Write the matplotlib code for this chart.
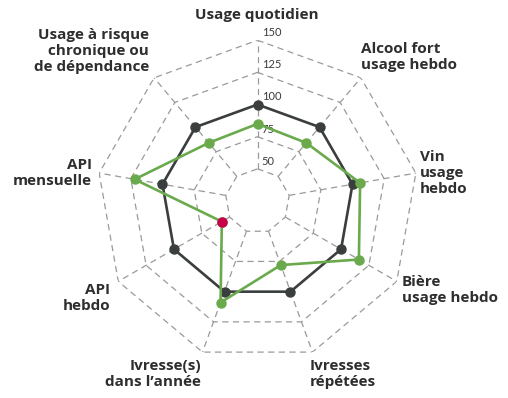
import numpy as np
import matplotlib.pyplot as plt

# Axes of the radar, clockwise from the top
axes_labels = [
    "Usage quotidien",
    "Alcool fort\nusage hebdo",
    "Vin\nusage\nhebdo",
    "Bière\nusage hebdo",
    "Ivresses\nrépétées",
    "Ivresse(s)\ndans l\u2019année",
    "API\nhebdo",
    "API\nmensuelle",
    "Usage à risque\nchronique ou\nde dépendance",
]
reference = [100, 100, 100, 100, 100, 100, 100, 100, 100]
group = [85, 84, 106, 116, 78, 109, 57, 122, 84]
highlight_index = 6
ring_values = [50, 75, 100, 125, 150]

W, H = 508, 398
fig = plt.figure(figsize=(W / 100, H / 100), dpi=100)

cx, cy, R = 257.5, 201, 160.8
ax = fig.add_axes([(cx - R) / W, (H - cy - R) / H, 2 * R / W, 2 * R / H], projection="polar")
ax.set_theta_zero_location("N")
ax.set_theta_direction(-1)
ax.set_rlim(25, 150)
ax.grid(False)
ax.spines["polar"].set_visible(False)
ax.set_xticks([])
ax.set_yticks([])
ax.patch.set_alpha(0)

n = len(axes_labels)
theta = np.arange(n) * 2 * np.pi / n
theta_closed = np.append(theta, theta[0])

grid_kw = dict(color="#9a9a9a", lw=0.9, dashes=(5, 3.5), zorder=1)
for v in ring_values:
    ax.plot(theta_closed, [v] * (n + 1), **grid_kw)
for t in theta:
    ax.plot([t, t], [ring_values[0], ring_values[-1]], **grid_kw)

for v in ring_values:
    ax.annotate(str(v), xy=(0, v), xytext=(3, 1.5), textcoords="offset points",
                ha="left", va="bottom", fontsize=8, family="Lato",
                color="#3a3a3a", zorder=2)

dark = "#3b3e3e"
green = "#6aaa4c"
red = "#c8004b"

ax.plot(theta_closed, reference + reference[:1], color=dark, lw=1.9, zorder=3)
ax.plot(theta, reference, "o", color=dark, ms=6.5, zorder=3)
ax.plot(theta_closed, group + group[:1], color=green, lw=1.9, zorder=4)
ax.plot(theta, group, "o", color=green, ms=6.5, zorder=4)
ax.plot(theta[highlight_index], group[highlight_index], "o", color=red, ms=6.5, zorder=5)

# Label anchors in pixels: (x, y, horizontal alignment)
label_pos = [
    (257, 15, "center"),
    (361, 57, "left"),
    (420, 173, "left"),
    (402, 290, "left"),
    (310, 374, "left"),
    (201, 374, "right"),
    (110, 298, "right"),
    (92, 173, "right"),
    (149, 51, "right"),
]
for text, (x, y, ha) in zip(axes_labels, label_pos):
    fig.text(x / W, 1 - y / H, text, ha=ha, va="center", multialignment=ha,
             fontsize=11, family="Open Sans", fontweight="bold", color="#2e2e2e",
             linespacing=1.2)

fig.savefig("out.png", dpi=100)
